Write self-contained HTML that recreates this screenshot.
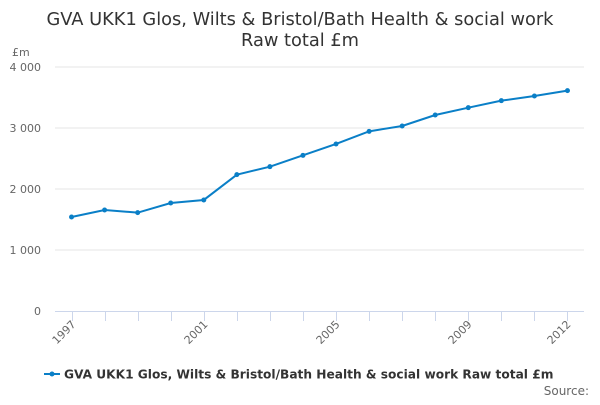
<!DOCTYPE html>
<html><head><meta charset="utf-8"><style>
body{margin:0;background:#fff;font-family:"Liberation Sans","DejaVu Sans",sans-serif}
svg text{font-family:"DejaVu Sans","Liberation Sans",sans-serif}
</style></head><body>
<svg id="c" width="600" height="400">
<text x="300" y="25" text-anchor="middle" font-size="17.8" fill="#333">GVA UKK1 Glos, Wilts &amp; Bristol/Bath Health &amp; social work</text>
<text x="300" y="46" text-anchor="middle" font-size="17.8" fill="#333">Raw total £m</text>
<text x="12" y="56" font-size="11" fill="#666">£m</text>
<g id="grid"></g><g id="xax"></g><g id="series"></g>
<g>
<line x1="44" y1="374" x2="60" y2="374" stroke="#0a7fc7" stroke-width="2"/>
<circle cx="52" cy="374" r="2.5" fill="#0a7fc7"/>
<text x="64" y="378.5" font-size="12.2" font-weight="bold" fill="#333">GVA UKK1 Glos, Wilts &amp; Bristol/Bath Health &amp; social work Raw total £m</text>
</g>
<text x="589" y="395" text-anchor="end" font-size="12" fill="#666">Source:</text>
</svg>
<script>
const years=[1997,1998,1999,2000,2001,2002,2003,2004,2005,2006,2007,2008,2009,2010,2011,2012];
const values=[1541,1656,1612,1770,1820,2235,2366,2552,2738,2945,3033,3213,3333,3448,3525,3612];
const yTicks=[0,1000,2000,3000,4000];
const yTickLabels=["0","1 000","2 000","3 000","4 000"];
const xLabelYears=[1997,2001,2005,2009,2012];
const NS="http://www.w3.org/2000/svg";
const L=55,R=584,T=67,B=311,yMax=4000;
const bw=(R-L)/years.length;
const xs=i=>L+bw*(i+0.5);
const ys=v=>B-(v/yMax)*(B-T);
function mk(t,a,p){const e=document.createElementNS(NS,t);for(const k in a)e.setAttribute(k,a[k]);p.appendChild(e);return e;}
const g=document.getElementById('grid'),xa=document.getElementById('xax'),s=document.getElementById('series');
yTicks.forEach((v,i)=>{
 if(v>0){const l=mk('line',{x1:L,x2:R,y1:ys(v),y2:ys(v),stroke:'#e6e6e6'},g);
 
 }
 const t=mk('text',{x:41,y:ys(v)+4,'text-anchor':'end','font-size':'11',fill:'#666'},g);t.textContent=yTickLabels[i];
 
 
});
const ax=mk('line',{x1:L,x2:R,y1:B+0.5,y2:B+0.5,stroke:'#ccd6eb'},xa);


years.forEach((y,i)=>{
 const x=Math.round(xs(i))+0.5;
 const tk=mk('line',{x1:x,x2:x,y1:B,y2:B+10,stroke:'#ccd6eb'},xa);
 
 
 if(xLabelYears.includes(y)){
  const t=mk('text',{x:x+4,y:B+14,'text-anchor':'end','font-size':'11',fill:'#666',transform:`rotate(-45 ${x+4} ${B+14})`},xa);
  t.textContent=y;
  
  
 }
});
const pl=mk('polyline',{points:values.map((v,i)=>xs(i)+','+ys(v)).join(' '),fill:'none',stroke:'#0a7fc7','stroke-width':2},s);


values.forEach((v,i)=>{
 const c=mk('circle',{cx:xs(i),cy:ys(v),r:2.5,fill:'#0a7fc7'},s);
 
 
});
</script>
</body></html>
